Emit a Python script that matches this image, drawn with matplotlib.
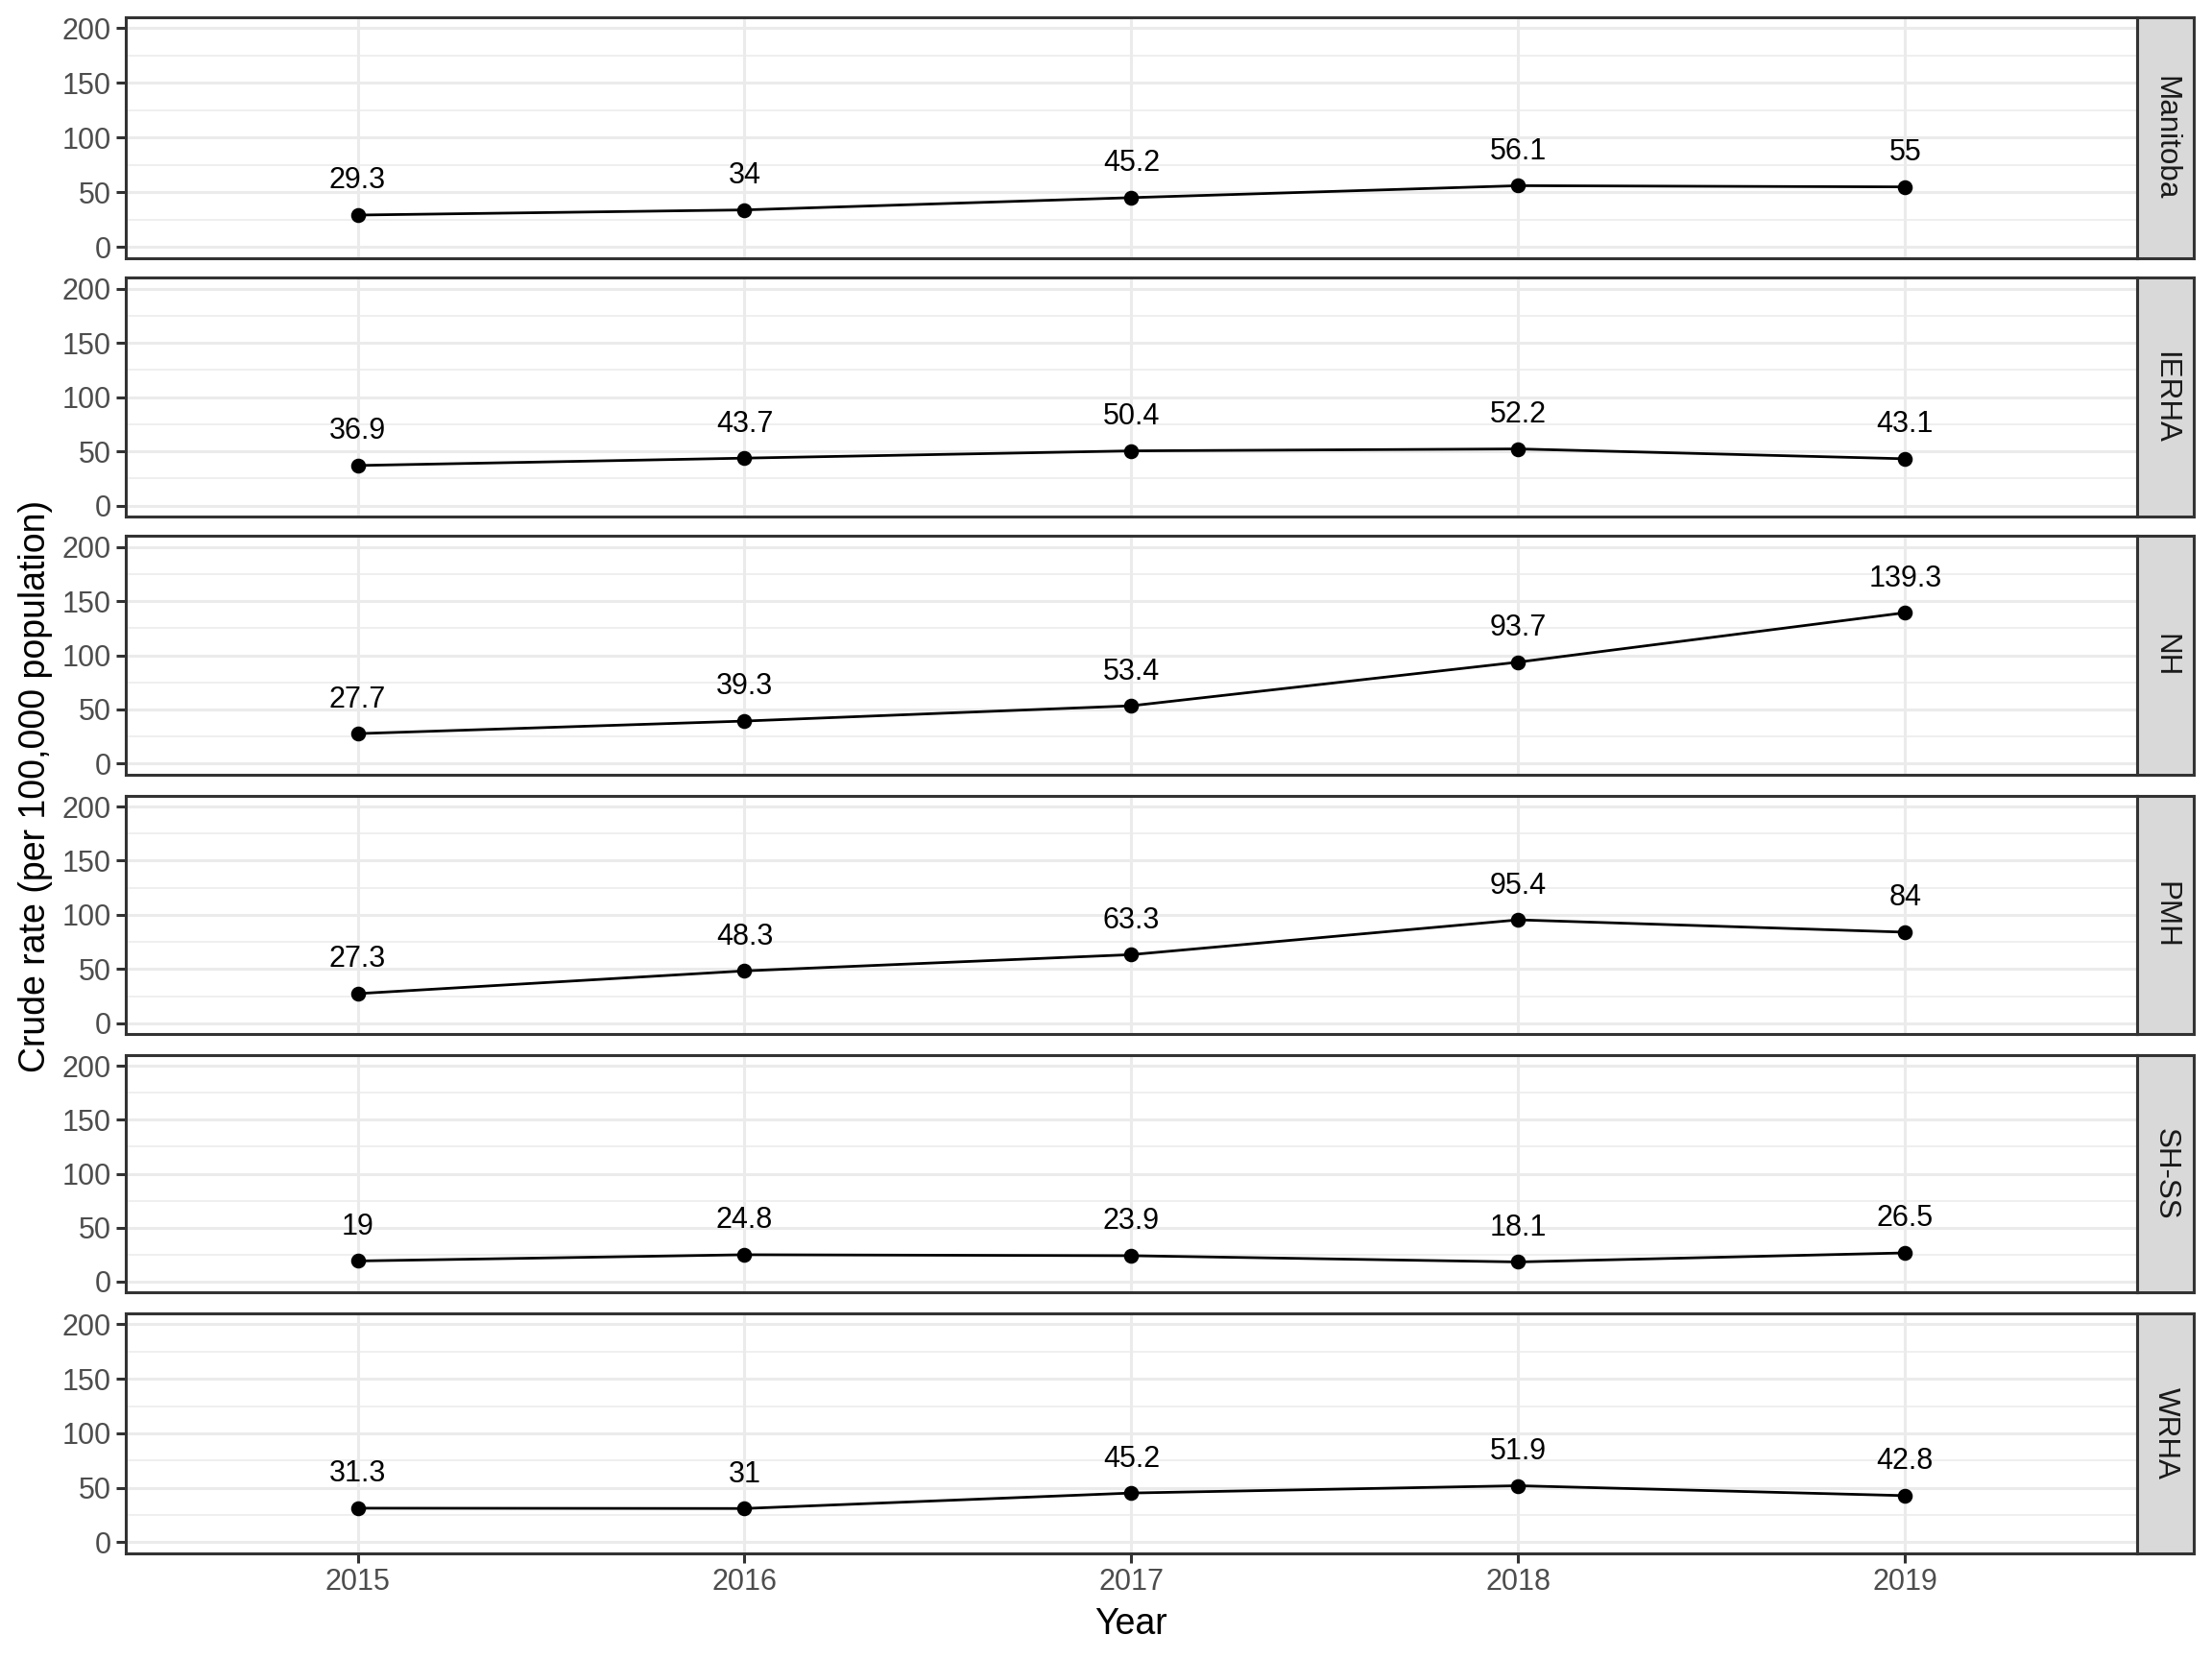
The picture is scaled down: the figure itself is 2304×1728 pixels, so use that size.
import matplotlib
matplotlib.use("Agg")
import matplotlib.pyplot as plt
from matplotlib.ticker import MultipleLocator

plt.rcParams['font.family'] = ['Liberation Sans', 'DejaVu Sans']

years = [2015, 2016, 2017, 2018, 2019]
regions = ["Manitoba", "IERHA", "NH", "PMH", "SH-SS", "WRHA"]
manitoba = [29.3, 34, 45.2, 56.1, 55]
ierha = [36.9, 43.7, 50.4, 52.2, 43.1]
nh = [27.7, 39.3, 53.4, 93.7, 139.3]
pmh = [27.3, 48.3, 63.3, 95.4, 84]
shss = [19, 24.8, 23.9, 18.1, 26.5]
wrha = [31.3, 31, 45.2, 51.9, 42.8]
series = [manitoba, ierha, nh, pmh, shss, wrha]
yticks = [0, 50, 100, 150, 200]

W, H = 2304, 1728
fig = plt.figure(figsize=(W / 200, H / 200), dpi=200)

dispW, dispH = 1568, 1176
left = 89 / dispW
right = 1515 / dispW
strip_r = 1555 / dispW
tops = [12, 197, 380, 564, 748, 931]
bots = [183, 366, 549, 733, 916, 1101]

border = '#333333'
for i, (reg, vals) in enumerate(zip(regions, series)):
    y0 = 1 - bots[i] / dispH
    h = (bots[i] - tops[i]) / dispH
    ax = fig.add_axes([left, y0, right - left, h])
    ax.set_xlim(2014.4, 2019.6)
    ax.set_ylim(-10, 210)
    ax.yaxis.set_major_locator(MultipleLocator(50))
    ax.yaxis.set_minor_locator(MultipleLocator(25))
    ax.set_yticks(yticks)
    ax.set_xticks(years)
    ax.grid(which='major', axis='both', color='#EBEBEB', lw=1.1)
    ax.grid(which='minor', axis='y', color='#EBEBEB', lw=0.55)
    ax.set_axisbelow(True)
    for s in ax.spines.values():
        s.set_color(border)
        s.set_linewidth(1.1)
    ax.tick_params(axis='both', which='major', length=3.5, width=1.1, color=border,
                   labelsize=11, labelcolor='#4D4D4D', pad=2)
    ax.tick_params(axis='y', which='minor', length=0)
    if i < len(regions) - 1:
        ax.tick_params(axis='x', labelbottom=False, length=0)
    ax.plot(years, vals, color='black', lw=1.0, marker='o', ms=4.6, zorder=3)
    for x, v in zip(years, vals):
        ax.annotate(f"{v:g}", (x, v), xytext=(0, 12.8), textcoords='offset points',
                    ha='center', va='center', fontsize=11, color='black')
    sax = fig.add_axes([right, y0, strip_r - right, h])
    sax.set_facecolor('#D9D9D9')
    sax.set_xticks([]); sax.set_yticks([])
    for s in sax.spines.values():
        s.set_color(border)
        s.set_linewidth(1.1)
    sax.text(0.5, 0.5, reg, rotation=-90, ha='center', va='center',
             fontsize=11.3, color='#1A1A1A', transform=sax.transAxes)
    if i == len(regions) - 1:
        ax.set_xlabel("Year", fontsize=13.5, labelpad=4)

fig.text(25 / dispW, 1 - 557 / dispH, "Crude rate (per 100,000 population)",
         rotation=90, ha='center', va='center', fontsize=13.5)

fig.savefig("out.png", dpi=200)
